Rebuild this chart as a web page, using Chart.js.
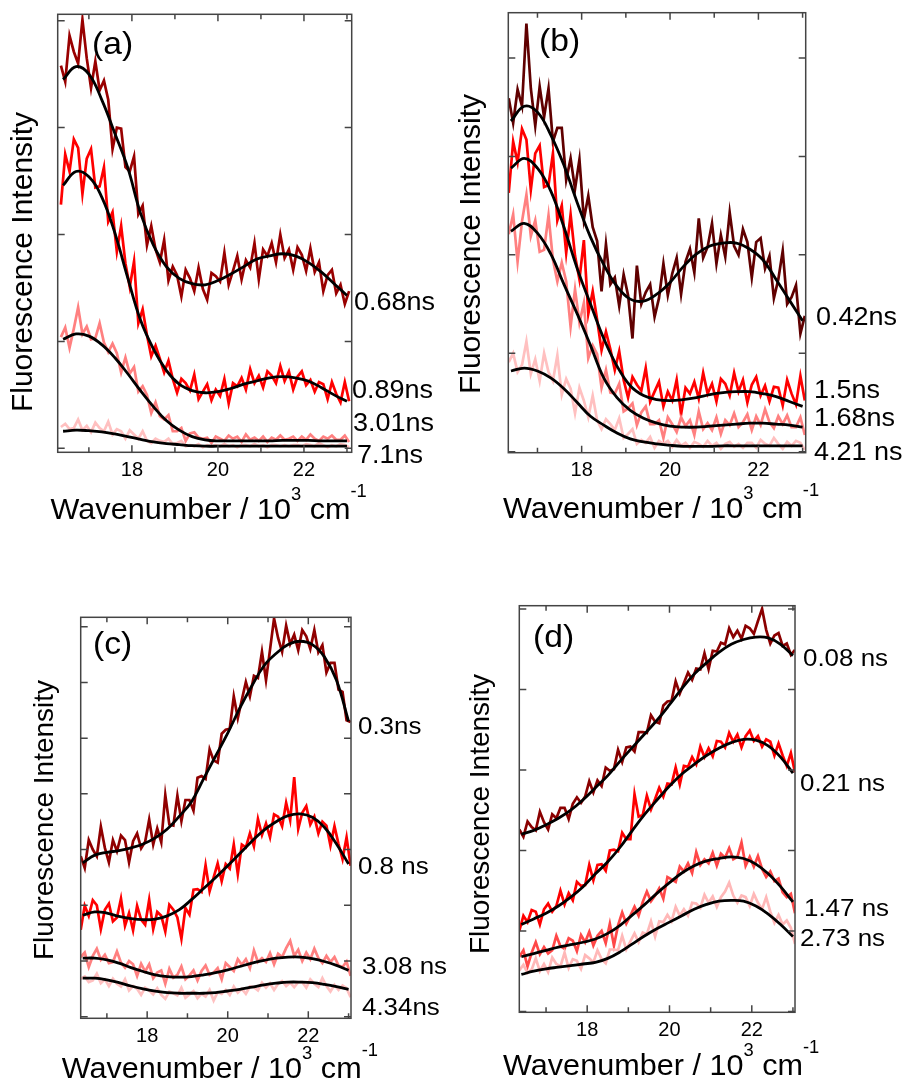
<!DOCTYPE html>
<html>
<head>
<meta charset="utf-8">
<script src="https://cdn.jsdelivr.net/npm/chart.js@4.4.0/dist/chart.umd.min.js"></script>
<style>
  body { margin: 0; background: #fff; }
  canvas { position: absolute; left: 0; top: 0; }
</style>
</head>
<body>
<canvas id="pa" width="907" height="1086"></canvas>
<canvas id="pb" width="907" height="1086"></canvas>
<canvas id="pc" width="907" height="1086"></canvas>
<canvas id="pd" width="907" height="1086"></canvas>
<script>
// wavenumber grid of the measured spectra (10^3 cm-1)
const wn = [16.35,16.45,16.55,16.65,16.75,16.85,16.95,17.05,17.15,17.25,
  17.35,17.45,17.55,17.65,17.75,17.85,17.95,18.05,18.15,18.25,
  18.35,18.45,18.55,18.65,18.75,18.85,18.95,19.05,19.15,19.25,
  19.35,19.45,19.55,19.65,19.75,19.85,19.95,20.05,20.15,20.25,
  20.35,20.45,20.55,20.65,20.75,20.85,20.95,21.05,21.15,21.25,
  21.35,21.45,21.55,21.65,21.75,21.85,21.95,22.05,22.15,22.25,
  22.35,22.45,22.55,22.65,22.75,22.85,22.95,23.05];
// grid of the fitted curves
const wnFit = [16.4,16.7,17.0,17.3,17.6,17.9,18.2,18.5,18.8,19.1,19.4,19.7,20.0,20.3,20.6,20.9,21.2,21.5,21.8,22.1,22.4,22.7,23.0];
const xTicks = [18, 20, 22];

// ---- panel (a)
const aLabels = ['0.68ns', '0.89ns', '3.01ns', '7.1ns'];
const aRaw068 = [3.58,3.43,3.86,3.71,3.60,4.01,3.65,3.37,3.62,3.35,
  3.44,3.26,2.80,3.00,2.99,2.63,2.59,2.73,2.19,2.27,
  1.90,2.08,1.86,1.74,1.95,1.57,1.70,1.62,1.42,1.67,
  1.59,1.47,1.69,1.49,1.39,1.64,1.61,1.56,1.83,1.53,
  1.66,1.80,1.58,1.76,1.69,1.92,1.58,1.86,1.80,1.92,
  1.74,2.00,1.78,1.86,1.67,1.88,1.81,1.66,1.87,1.65,
  1.74,1.47,1.62,1.67,1.45,1.53,1.35,1.47];
const aRaw089 = [2.28,2.75,2.59,2.89,2.81,2.38,2.71,2.80,2.44,2.45,
  2.63,2.12,2.21,1.84,2.08,1.73,1.51,1.75,1.17,1.30,
  1.06,0.86,0.96,0.84,0.71,0.82,0.65,0.52,0.65,0.61,
  0.54,0.69,0.46,0.53,0.60,0.45,0.55,0.49,0.65,0.42,
  0.61,0.58,0.66,0.55,0.74,0.61,0.68,0.57,0.72,0.68,
  0.61,0.77,0.63,0.72,0.55,0.67,0.72,0.59,0.64,0.53,
  0.62,0.60,0.46,0.62,0.51,0.43,0.62,0.44];
const aRaw301 = [1.04,1.13,0.94,1.12,1.32,1.07,1.14,1.02,1.03,1.17,
  0.99,0.90,0.98,0.89,0.71,0.85,0.70,0.76,0.53,0.58,
  0.50,0.33,0.43,0.30,0.27,0.31,0.16,0.16,0.19,0.07,
  0.14,0.15,0.10,0.09,0.10,0.05,0.11,0.09,0.07,0.12,
  0.09,0.11,0.06,0.13,0.08,0.10,0.07,0.11,0.06,0.10,
  0.08,0.12,0.08,0.09,0.11,0.07,0.11,0.08,0.13,0.09,
  0.07,0.11,0.09,0.12,0.08,0.08,0.12,0.06];
const aRaw71 = [0.20,0.23,0.18,0.19,0.27,0.17,0.21,0.15,0.24,0.19,
  0.16,0.25,0.13,0.18,0.16,0.09,0.17,0.13,0.09,0.16,
  0.07,0.05,0.09,0.07,0.06,0.09,0.04,0.05,0.07,0.02,
  0.03,0.02,0.04,0.01,0.03,0.02,0.03,0.02,0.04,0.02,
  0.03,0.01,0.03,0.03,0.02,0.04,0.02,0.03,0.01,0.03,
  0.03,0.02,0.03,0.02,0.03,0.03,0.02,0.04,0.03,0.02,
  0.05,0.03,0.01,0.03,0.02,0.04,0.03,0.01];
const aFit068 = [3.45,3.57,3.50,3.26,2.95,2.63,2.20,1.90,1.70,1.59,1.54,1.53,1.57,1.63,1.70,1.77,1.80,1.82,1.80,1.74,1.65,1.54,1.43];
const aFit089 = [2.46,2.59,2.54,2.35,2.02,1.60,1.20,0.93,0.73,0.60,0.54,0.52,0.53,0.56,0.60,0.63,0.66,0.67,0.66,0.63,0.57,0.50,0.44];
const aFit301 = [1.02,1.07,1.05,0.97,0.85,0.70,0.54,0.39,0.26,0.17,0.11,0.08,0.07,0.07,0.07,0.07,0.07,0.075,0.075,0.075,0.07,0.07,0.07];
const aFit71 = [0.16,0.17,0.165,0.155,0.135,0.11,0.085,0.06,0.045,0.035,0.025,0.02,0.02,0.02,0.02,0.02,0.02,0.02,0.02,0.02,0.02,0.02,0.02];

// ---- panel (b)
const bLabels = ['0.42ns', '1.5ns', '1.68ns', '4.21 ns'];
const bRaw042 = [3.59,3.34,3.68,3.51,4.35,3.69,3.31,3.71,3.40,3.69,
  3.15,3.29,3.29,2.76,2.98,2.67,2.97,2.36,2.60,2.28,
  2.14,1.63,2.11,1.70,1.77,1.48,1.80,1.59,1.15,1.89,
  1.50,1.62,1.70,1.37,1.56,1.91,1.59,1.81,1.97,1.60,
  1.93,2.06,1.82,2.37,1.97,2.08,2.32,1.91,2.20,1.98,
  2.43,2.09,2.00,2.26,2.13,1.77,2.13,2.17,1.86,1.99,
  1.56,1.75,2.04,1.50,1.57,1.69,1.20,1.38];
const bRaw15 = [2.63,3.15,2.94,3.28,3.17,2.66,3.03,3.11,2.69,2.71,
  3.03,2.35,2.50,2.02,2.41,1.99,1.75,2.15,1.40,1.63,
  1.34,1.03,1.22,1.04,0.83,1.02,0.73,0.55,0.76,0.68,
  0.62,0.85,0.51,0.61,0.71,0.46,0.61,0.52,0.73,0.38,
  0.65,0.59,0.71,0.54,0.80,0.59,0.69,0.51,0.74,0.69,
  0.57,0.80,0.61,0.73,0.50,0.68,0.76,0.57,0.67,0.51,
  0.66,0.65,0.47,0.73,0.59,0.48,0.77,0.52];
const bRaw168 = [2.21,2.41,1.93,2.34,2.61,2.19,2.35,2.03,2.05,2.40,
  1.95,1.73,1.92,1.73,1.27,1.65,1.31,1.51,0.95,1.08,
  0.99,0.65,0.83,0.60,0.59,0.69,0.41,0.44,0.49,0.27,
  0.40,0.46,0.28,0.28,0.32,0.14,0.35,0.28,0.20,0.35,
  0.26,0.32,0.17,0.41,0.23,0.29,0.22,0.35,0.18,0.32,
  0.27,0.39,0.25,0.30,0.38,0.22,0.36,0.27,0.43,0.30,
  0.24,0.36,0.28,0.37,0.25,0.25,0.35,0.17];
const bRaw421 = [0.91,1.00,0.81,0.88,1.12,0.79,0.94,0.72,1.00,0.81,
  0.72,0.98,0.58,0.74,0.64,0.39,0.65,0.52,0.35,0.57,
  0.32,0.23,0.33,0.28,0.22,0.34,0.14,0.18,0.23,0.08,
  0.12,0.09,0.15,0.04,0.11,0.08,0.11,0.05,0.12,0.06,
  0.09,0.04,0.10,0.08,0.05,0.11,0.06,0.09,0.03,0.08,
  0.10,0.05,0.08,0.04,0.09,0.09,0.04,0.12,0.08,0.06,
  0.14,0.08,0.03,0.10,0.06,0.11,0.09,0.02];
const bFit042 = [3.36,3.51,3.45,3.22,2.91,2.53,2.18,1.90,1.68,1.55,1.53,1.60,1.72,1.88,2.01,2.09,2.12,2.12,2.06,1.95,1.75,1.54,1.33];
const bFit15 = [2.88,2.98,2.88,2.65,2.28,1.86,1.50,1.15,0.87,0.67,0.57,0.53,0.52,0.53,0.55,0.58,0.60,0.61,0.61,0.59,0.56,0.51,0.46];
const bFit168 = [2.24,2.32,2.22,2.01,1.70,1.40,1.08,0.75,0.55,0.42,0.34,0.29,0.26,0.25,0.25,0.26,0.27,0.28,0.29,0.29,0.28,0.27,0.25];
const bFit421 = [0.82,0.85,0.82,0.75,0.64,0.50,0.36,0.27,0.19,0.13,0.10,0.08,0.065,0.055,0.055,0.055,0.06,0.06,0.06,0.06,0.06,0.06,0.06];

// ---- panel (c)
const cLabels = ['0.3ns', '0.8 ns', '3.08 ns', '4.34ns'];
const cRaw03 = [2.88,2.67,3.17,3.00,2.88,3.41,3.03,2.77,3.17,2.97,
  3.25,3.17,2.77,3.15,3.29,3.02,3.14,3.54,3.09,3.38,
  3.13,3.98,3.45,3.43,3.97,3.51,3.89,3.89,3.70,4.29,
  4.32,4.27,4.80,4.60,4.56,5.08,5.15,5.17,5.75,5.36,
  5.69,6.01,5.75,6.12,6.08,6.55,6.04,6.59,7.15,6.80,
  6.55,7.02,6.69,6.86,6.58,6.94,6.83,6.60,6.94,6.54,
  6.67,6.18,6.35,6.35,5.87,5.83,5.32,5.29];
const cRaw08 = [1.56,1.99,1.81,2.09,2.00,1.57,1.92,2.03,1.71,1.78,
  2.12,1.63,1.86,1.55,1.99,1.74,1.65,2.10,1.57,1.88,
  1.81,1.53,2.01,1.92,1.78,1.40,1.95,1.83,2.28,2.29,
  2.24,2.72,2.25,2.50,2.75,2.43,2.74,2.66,3.09,2.56,
  3.09,3.04,3.29,3.06,3.55,3.26,3.47,3.22,3.63,3.59,
  3.42,3.84,3.53,4.30,3.37,3.66,3.78,3.45,3.59,3.29,
  3.50,3.43,3.07,3.42,3.10,2.83,3.22,2.71];
const cRaw308 = [1.07,1.15,0.89,1.09,1.22,1.02,1.11,0.96,0.98,1.17,
  0.97,0.88,1.00,0.94,0.73,0.95,0.81,0.94,0.69,0.79,
  0.83,0.59,0.86,0.70,0.75,0.90,0.67,0.74,0.83,0.65,
  0.82,0.92,0.75,0.79,0.87,0.67,0.96,0.89,0.82,1.03,
  0.93,1.03,0.87,1.19,0.98,1.05,0.98,1.14,0.94,1.13,
  1.07,1.23,1.36,1.09,1.20,1.00,1.15,1.03,1.22,1.05,
  0.96,1.09,0.98,1.07,0.92,0.89,0.99,0.73];
const cRaw434 = [0.68,0.72,0.62,0.65,0.77,0.60,0.67,0.55,0.68,0.59,
  0.54,0.67,0.47,0.55,0.50,0.39,0.52,0.47,0.40,0.51,
  0.39,0.32,0.45,0.42,0.38,0.52,0.34,0.40,0.46,0.33,
  0.41,0.36,0.48,0.29,0.44,0.41,0.48,0.39,0.54,0.43,
  0.50,0.41,0.54,0.53,0.47,0.61,0.52,0.60,0.48,0.59,
  0.64,0.55,0.61,0.53,0.62,0.62,0.52,0.67,0.59,0.53,
  0.69,0.55,0.45,0.57,0.48,0.56,0.51,0.35];
const cFit03 = [2.76,2.90,2.95,2.98,3.03,3.10,3.21,3.37,3.60,3.86,4.27,4.68,5.09,5.54,5.94,6.30,6.52,6.68,6.74,6.68,6.46,6.04,5.30];
const cFit08 = [1.82,1.88,1.86,1.80,1.76,1.74,1.75,1.81,1.92,2.10,2.30,2.50,2.71,2.93,3.15,3.35,3.50,3.61,3.64,3.58,3.40,3.10,2.74];
const cFit308 = [1.05,1.05,1.02,0.96,0.88,0.81,0.75,0.72,0.71,0.72,0.75,0.79,0.84,0.90,0.96,1.01,1.05,1.07,1.07,1.04,0.99,0.92,0.83];
const cFit434 = [0.69,0.69,0.66,0.61,0.55,0.50,0.46,0.43,0.42,0.42,0.42,0.43,0.46,0.49,0.53,0.57,0.60,0.62,0.62,0.61,0.58,0.54,0.49];

// ---- panel (d)
const dLabels = ['0.08 ns', '0.21 ns', '1.47 ns', '2.73 ns'];
const dRaw008 = [2.26,2.17,2.36,2.29,2.25,2.48,2.35,2.26,2.45,2.40,
  2.53,2.53,2.39,2.58,2.66,2.59,2.67,2.86,2.72,2.87,
  2.80,3.03,2.99,3.01,3.25,3.10,3.28,3.29,3.23,3.47,
  3.47,3.46,3.68,3.60,3.58,3.80,3.85,3.86,4.10,3.95,
  4.08,4.21,4.12,4.26,4.25,4.45,4.25,4.48,4.47,4.58,
  4.56,4.76,4.65,4.73,4.63,4.79,4.76,4.69,4.85,5.00,
  4.74,4.57,4.67,4.70,4.54,4.57,4.43,4.49];
const dRaw021 = [1.00,1.19,1.11,1.26,1.24,1.08,1.27,1.34,1.24,1.31,
  1.50,1.33,1.47,1.38,1.61,1.56,1.57,1.82,1.63,1.82,
  1.83,1.75,2.00,2.01,1.99,2.22,2.14,2.14,2.70,2.42,
  2.44,2.68,2.51,2.64,2.78,2.67,2.83,2.82,3.03,2.82,
  3.05,3.04,3.16,3.07,3.29,3.16,3.27,3.17,3.36,3.35,
  3.28,3.46,3.35,3.44,3.28,3.42,3.49,3.36,3.42,3.29,
  3.38,3.35,3.18,3.33,3.18,3.05,3.21,2.97];
const dRaw147 = [0.68,0.76,0.56,0.73,0.86,0.71,0.80,0.72,0.76,0.94,
  0.81,0.78,0.91,0.88,0.75,0.95,0.86,0.99,0.82,0.94,
  1.00,0.85,1.09,0.82,1.07,1.23,1.09,1.19,1.30,1.19,
  1.36,1.49,1.37,1.44,1.53,1.40,1.67,1.64,1.61,1.80,
  1.74,1.84,1.72,1.98,1.82,1.89,1.84,1.97,1.81,1.96,
  1.91,2.03,1.89,1.92,2.10,1.81,1.92,1.80,1.93,1.77,
  1.67,1.74,1.62,1.65,1.48,1.42,1.46,1.22];
const dRaw273 = [0.51,0.58,0.48,0.52,0.66,0.50,0.59,0.49,0.67,0.59,
  0.56,0.73,0.54,0.65,0.63,0.53,0.70,0.66,0.61,0.76,
  0.65,0.60,0.77,0.77,0.76,0.94,0.77,0.87,0.97,0.86,
  0.98,0.96,1.12,0.93,1.12,1.11,1.20,1.12,1.30,1.19,
  1.27,1.19,1.35,1.34,1.29,1.45,1.35,1.43,1.30,1.42,
  1.49,1.60,1.44,1.35,1.44,1.42,1.31,1.46,1.35,1.27,
  1.42,1.24,1.10,1.20,1.08,1.13,1.04,0.84];
const dFit008 = [2.20,2.25,2.32,2.40,2.50,2.63,2.78,2.93,3.11,3.28,3.45,3.62,3.81,4.01,4.19,4.33,4.46,4.56,4.62,4.65,4.64,4.56,4.42];
const dFit021 = [1.08,1.15,1.22,1.31,1.42,1.55,1.71,1.86,2.04,2.25,2.45,2.63,2.80,2.95,3.07,3.18,3.27,3.34,3.38,3.37,3.30,3.16,2.96];
const dFit147 = [0.68,0.72,0.76,0.80,0.83,0.86,0.90,0.97,1.07,1.20,1.33,1.47,1.60,1.72,1.81,1.87,1.90,1.92,1.90,1.83,1.71,1.55,1.36];
const dFit273 = [0.46,0.50,0.53,0.55,0.57,0.59,0.61,0.66,0.74,0.84,0.94,1.03,1.11,1.19,1.27,1.33,1.37,1.38,1.37,1.31,1.21,1.08,0.93];

const FONT = '"Liberation Sans", Arial, Helvetica, sans-serif';

function say(ctx, text, x, y, size, align, sx) {
  ctx.save();
  ctx.translate(x, y);
  ctx.scale(sx || 1, 1);
  ctx.font = size + 'px ' + FONT;
  ctx.textAlign = align || 'left';
  ctx.textBaseline = 'middle';
  ctx.fillText(text, 0, 0);
  ctx.restore();
}

// Wavenumber / 10^3 cm^-1 centred under the plot
function xTitle(ctx, cx, base, size, sx) {
  const small = Math.round(size * 0.6);
  const parts = [
    ['Wavenumber / 10', size, 0],
    ['3', small, 0.63 * size],
    [' cm', size, 0],
    ['-1', small, 0.73 * size]
  ];
  let w = 0;
  parts.forEach(p => { ctx.font = p[1] + 'px ' + FONT; w += ctx.measureText(p[0]).width; });
  ctx.save();
  ctx.translate(cx, base);
  ctx.scale(sx, 1);
  let x = -w / 2;
  ctx.textAlign = 'left';
  ctx.textBaseline = 'alphabetic';
  parts.forEach(p => {
    ctx.font = p[1] + 'px ' + FONT;
    ctx.fillText(p[0], x, -p[2]);
    x += ctx.measureText(p[0]).width;
  });
  ctx.restore();
}

function framePlugin(p) {
  return {
    id: 'frame',
    afterDraw(chart) {
      const { ctx, chartArea: a, scales: { x, y } } = chart;
      ctx.save();
      ctx.strokeStyle = '#444';
      ctx.lineWidth = 1.5;
      ctx.strokeRect(a.left, a.top, a.right - a.left, a.bottom - a.top);
      ctx.beginPath();
      for (let v = 17; v <= 23; v++) {
        const px = x.getPixelForValue(v);
        const len = v % 2 === 0 ? 7 : 5;
        ctx.moveTo(px, a.top); ctx.lineTo(px, a.top + len);
        ctx.moveTo(px, a.bottom); ctx.lineTo(px, a.bottom - len);
      }
      for (let v = 0; v <= p.yTicks; v++) {
        const py = y.getPixelForValue(v);
        ctx.moveTo(a.left, py); ctx.lineTo(a.left + 7, py);
        ctx.moveTo(a.right, py); ctx.lineTo(a.right - 7, py);
      }
      ctx.stroke();

      ctx.fillStyle = '#000';
      xTicks.forEach(v => say(ctx, String(v), x.getPixelForValue(v), a.bottom + 18, 20, 'center'));
      xTitle(ctx, (a.left + a.right) / 2 + 4, p.xTitleBase, 30, 1.02);

      ctx.save();
      ctx.translate(p.yTitle[0], p.yTitle[1]);
      ctx.rotate(-Math.PI / 2);
      ctx.font = p.yTitle[2] + 'px ' + FONT;
      ctx.textAlign = 'center';
      ctx.textBaseline = 'middle';
      ctx.fillText('Fluorescence Intensity', 0, 0);
      ctx.restore();

      say(ctx, p.label, p.labelAt[0], p.labelAt[1], 32, 'left', 1.05);
      p.names.forEach((t, i) => say(ctx, t, p.tagAt[i][0], p.tagAt[i][1], p.tagSize, 'left', 1.08));
      ctx.restore();
    }
  };
}

function panel(p) {
  const ds = [];
  p.raw.forEach((r, i) => {
    ds.push({
      data: wn.map((x, j) => ({ x: x, y: r[j] })),
      borderColor: p.colors[i], borderWidth: 2.7, tension: 0, order: 10 - i
    });
  });
  p.fit.forEach(f => {
    ds.push({
      data: wnFit.map((x, j) => ({ x: x, y: f[j] })),
      borderColor: '#000', borderWidth: 2.8, tension: 0.4, order: 0
    });
  });
  new Chart(document.getElementById(p.id), {
    type: 'line',
    data: { datasets: ds },
    options: {
      responsive: false,
      animation: false,
      events: [],
      layout: { padding: { left: p.box[0], top: p.box[1], right: 907 - p.box[2], bottom: 1086 - p.box[3] } },
      elements: { point: { radius: 0 } },
      plugins: { legend: { display: false }, tooltip: { enabled: false } },
      scales: {
        x: { type: 'linear', display: false, min: p.xr[0], max: p.xr[1] },
        y: { type: 'linear', display: false, min: p.yr[0], max: p.yr[1] }
      }
    },
    plugins: [framePlugin(p)]
  });
}

panel({
  id: 'pa', box: [57.7, 14.3, 351.7, 452.3], xr: [16.275, 23.11], yr: [-0.037, 4.06], yTicks: 4,
  raw: [aRaw068, aRaw089, aRaw301, aRaw71], fit: [aFit068, aFit089, aFit301, aFit71],
  colors: ['#990000', '#ff0000', '#ff8080', '#ffc0c0'],
  names: aLabels, tagAt: [[354, 303], [352, 391], [353, 424], [357, 456]], tagSize: 25,
  label: '(a)', labelAt: [92, 45], yTitle: [24, 262, 30], xTitleBase: 519
});
panel({
  id: 'pb', box: [508.3, 12.7, 805.7, 452.7], xr: [16.34, 23.07], yr: [-0.01, 4.46], yTicks: 4,
  raw: [bRaw042, bRaw15, bRaw168, bRaw421], fit: [bFit042, bFit15, bFit168, bFit421],
  colors: ['#600000', '#ff0000', '#ff8080', '#ffc0c0'],
  names: bLabels, tagAt: [[816, 318], [814, 391], [814, 419], [814, 453]], tagSize: 25,
  label: '(b)', labelAt: [539, 42], yTitle: [472, 244, 30], xTitleBase: 518
});
panel({
  id: 'pc', box: [80.7, 617.3, 351, 1018.3], xr: [16.35, 23.06], yr: [-0.03, 7.17], yTicks: 7,
  raw: [cRaw03, cRaw08, cRaw308, cRaw434], fit: [cFit03, cFit08, cFit308, cFit434],
  colors: ['#900000', '#ff0000', '#ff8080', '#ffc0c0'],
  names: cLabels, tagAt: [[358, 727], [358, 867], [362, 967], [362, 1008]], tagSize: 24,
  label: '(c)', labelAt: [93, 645], yTitle: [45, 820, 28], xTitleBase: 1078
});
panel({
  id: 'pd', box: [519.3, 605.7, 795, 1012.3], xr: [16.35, 23.05], yr: [-0.01, 5.04], yTicks: 5,
  raw: [dRaw008, dRaw021, dRaw147, dRaw273], fit: [dFit008, dFit021, dFit147, dFit273],
  colors: ['#8b0000', '#ff0000', '#ff4848', '#ffb8b8'],
  names: dLabels, tagAt: [[803, 659], [800, 784], [804, 909], [800, 939]], tagSize: 24,
  label: '(d)', labelAt: [533, 638], yTitle: [481, 814, 28], xTitleBase: 1075
});
</script>
</body>
</html>
